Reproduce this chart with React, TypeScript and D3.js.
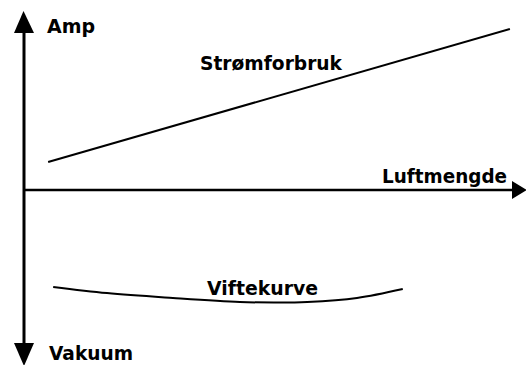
import React from "react";
import * as d3 from "d3";

const W = 526;
const H = 365;

// Strømforbruk (current draw) – straight line, airflow % vs relative amp
const powerX = [5, 96.8];
const powerY = [0.16, 0.92];

// Viftekurve (fan curve) – airflow % vs relative vacuum (negative = down)
const fanX = [6, 16.7, 29.8, 43.1, 50.1, 56.5, 66.4, 75.5];
const fanY = [-0.554, -0.589, -0.617, -0.64, -0.643, -0.64, -0.617, -0.566];

const labels = [
  { text: "Amp", x: 47, y: 33, w: 48 },
  { text: "Strømforbruk", x: 200, y: 70, w: 142 },
  { text: "Luftmengde", x: 382, y: 183, w: 125 },
  { text: "Viftekurve", x: 207, y: 295, w: 111 },
  { text: "Vakuum", x: 49, y: 360, w: 84 },
];

export default function App() {
  const x = d3.scaleLinear().domain([0, 100]).range([23, 526]);
  const y = d3.scaleLinear().domain([-1, 1]).range([365, 15]);

  const powerData = powerX.map((v, i) => [v, powerY[i]] as [number, number]);
  const fanData = fanX.map((v, i) => [v, fanY[i]] as [number, number]);

  const line = d3
    .line<[number, number]>()
    .x((d) => x(d[0]))
    .y((d) => y(d[1]));
  const curve = d3
    .line<[number, number]>()
    .x((d) => x(d[0]))
    .y((d) => y(d[1]))
    .curve(d3.curveCatmullRom.alpha(0.5));

  const axX = 24;
  const axY = y(0);

  return (
    <svg
      width={W}
      height={H}
      style={{ position: "absolute", left: 0, top: 0, background: "#fff" }}
    >
      <rect width={W} height={H} fill="#fff" />
      {/* vertical axis */}
      <line x1={axX} y1={30} x2={axX} y2={346} stroke="#000" strokeWidth={3} />
      <path d={`M${axX - 10},33 L${axX - 0.5},11 L${axX + 10},33 Z`} fill="#000" />
      <path d={`M${axX - 10},343 L${axX},366 L${axX + 10},343 Z`} fill="#000" />
      {/* horizontal axis */}
      <line x1={axX} y1={axY} x2={514} y2={axY} stroke="#000" strokeWidth={2.5} />
      <path d={`M512,${axY - 9} L527,${axY} L512,${axY + 9} Z`} fill="#000" />
      {/* data */}
      <path d={line(powerData) || ""} fill="none" stroke="#000" strokeWidth={2} />
      <path d={curve(fanData) || ""} fill="none" stroke="#000" strokeWidth={2} />
      {labels.map((l) => (
        <text
          key={l.text}
          x={l.x}
          y={l.y}
          fontFamily="DejaVu Sans, Verdana, sans-serif"
          fontWeight="bold"
          fontSize={19}
          textLength={l.w}
          lengthAdjust="spacingAndGlyphs"
          fill="#000"
        >
          {l.text}
        </text>
      ))}
    </svg>
  );
}
